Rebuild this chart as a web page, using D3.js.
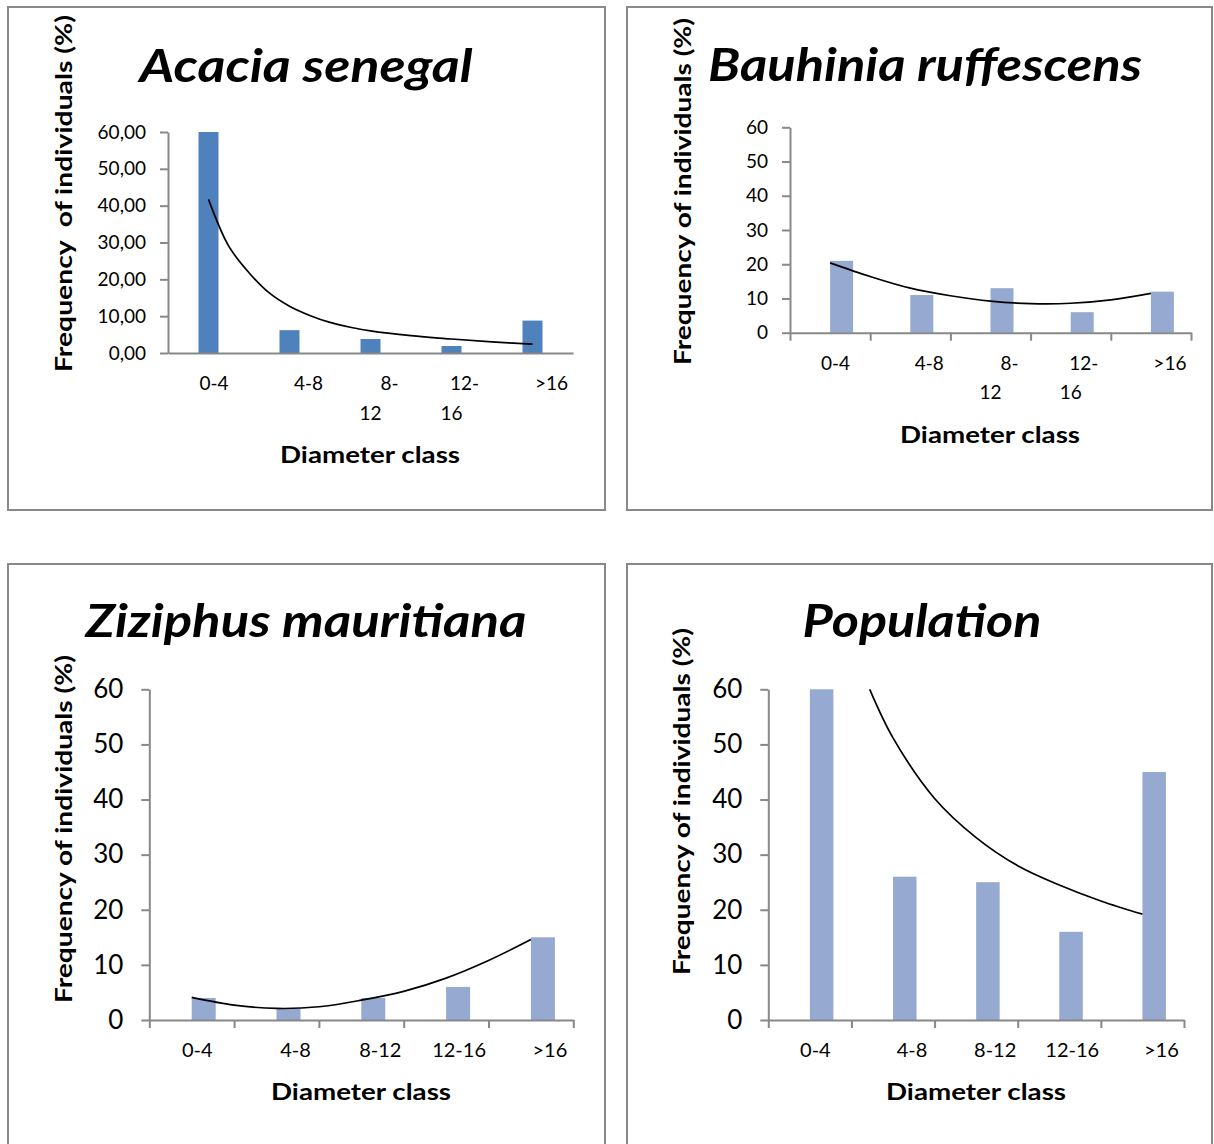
<!DOCTYPE html>
<html>
<head>
<meta charset="utf-8">
<script src="https://cdn.jsdelivr.net/npm/d3@7"></script>
<style>
  body { margin: 0; background: #fff; }
  svg { display: block; }
  text { font-family: Lato, "Open Sans", sans-serif; fill: #000; }
</style>
</head>
<body>
<div id="wrapper"></div>
<script>
// diameter classes on the x axis
const classes = ["0-4", "4-8", "8-12", "12-16", ">16"]
// top charts wrap the long labels on two lines
const wrappedLabels = [["0-4"], ["4-8"], ["8-", "12"], ["12-", "16"], [">16"]]
const singleLabels = classes.map(c => [c])
const yTicks = [0, 10, 20, 30, 40, 50, 60]

// frequency of individuals (%) for each class
const acaciaValues = [60, 6.2, 3.8, 1.9, 8.8]
const bauhiniaValues = [21, 11, 13, 6, 12]
const ziziphusValues = [4, 2, 4, 6, 15]
const populationValues = [60, 26, 25, 16, 45]

// trend lines: [class position (1..5), value]
const acaciaTrend = [[1, 41.7], [1.25, 29], [1.5, 21.8], [1.75, 16.3], [2, 12.7], [2.25, 10.2], [2.5, 8.3],
    [2.75, 7], [3, 6], [3.5, 4.7], [4, 3.8], [4.5, 3], [5, 2.4]]
const bauhiniaTrend = [[1, 20.4], [1.5, 16.4], [2, 13], [2.5, 10.8], [3, 9.2], [3.5, 8.5], [4, 8.6], [4.5, 9.6], [5, 11.5]]
const ziziphusTrend = [[1, 4.1], [1.5, 2.7], [2, 2.1], [2.5, 2.4], [3, 3.6], [3.5, 5.2], [4, 7.6], [4.5, 10.8], [5, 14.6]]
const populationTrend = [[1.72, 60], [2, 51.2], [2.5, 40.2], [3, 33.1], [3.5, 28], [4, 24.5], [4.5, 21.6], [5, 19.2]]

// comma decimals like the original spreadsheet ("60,00")
const commaLocale = d3.formatLocale({decimal: ",", thousands: ".", grouping: [3], currency: ["", ""]})
const fmtComma = commaLocale.format(".2f")
const fmtPlain = d3.format("d")

// where everything sits on the page (not data)
const labelShift = [5.5, 19, 19, 13, 19]

const panels = [
    {
        title: "Acacia senegal", yTitle: "Frequency  of individuals (%)",
        values: acaciaValues, trend: acaciaTrend, labels: wrappedLabels, fmt: fmtComma,
        box: {x: 8, y: 7, w: 597, h: 503},
        plot: {left: 168, right: 573, top: 132, bottom: 353},
        barColor: "#4f81bd", barWidth: 20, centered: true, xTicks: false,
        tickFont: 19, tickPad: 14, labelFont: 19, labelY: [390, 420],
        titlePos: {x: 306, y: 82, len: 333},
        yTitlePos: {x: 72, y: 193.5, len: 357},
        xTitlePos: {x: 370, y: 463},
    },
    {
        title: "Bauhinia ruffescens", yTitle: "Frequency of individuals (%)",
        values: bauhiniaValues, trend: bauhiniaTrend, labels: wrappedLabels, fmt: fmtPlain,
        box: {x: 627, y: 7, w: 585, h: 503},
        plot: {left: 790, right: 1191, top: 127.3, bottom: 332.7},
        barColor: "#95a9d1", barWidth: 23, centered: false, xTicks: true,
        tickFont: 19, tickPad: 14, labelFont: 19, labelY: [370, 399],
        titlePos: {x: 925, y: 81, len: 434},
        yTitlePos: {x: 691, y: 191.5, len: 347},
        xTitlePos: {x: 990, y: 443},
    },
    {
        title: "Ziziphus mauritiana", yTitle: "Frequency of individuals (%)",
        values: ziziphusValues, trend: ziziphusTrend, labels: singleLabels, fmt: fmtPlain,
        box: {x: 8, y: 564, w: 597, h: 600},
        plot: {left: 149.3, right: 573.3, top: 689.3, bottom: 1020},
        barColor: "#95a9d1", barWidth: 24, centered: false, xTicks: true,
        tickFont: 26, tickPad: 18, labelFont: 20, labelY: [1057],
        titlePos: {x: 306, y: 637, len: 441},
        yTitlePos: {x: 72, y: 829, len: 348},
        xTitlePos: {x: 361, y: 1100},
    },
    {
        title: "Population", yTitle: "Frequency of individuals (%)",
        values: populationValues, trend: populationTrend, labels: singleLabels, fmt: fmtPlain,
        box: {x: 627, y: 564, w: 585, h: 600},
        plot: {left: 768.3, right: 1184, top: 689.3, bottom: 1020},
        barColor: "#95a9d1", barWidth: 23.5, centered: false, xTicks: true,
        tickFont: 26, tickPad: 18, labelFont: 20, labelY: [1057],
        titlePos: {x: 922, y: 637, len: 239},
        yTitlePos: {x: 690, y: 801.5, len: 347},
        xTitlePos: {x: 976, y: 1100},
    },
]

const svg = d3.select("#wrapper")
    .append("svg")
        .attr("width", 1214)
        .attr("height", 1144)

panels.forEach((p, k) => drawPanel(p, k))

function drawPanel(p, k) {
    const g = svg.append("g")

    // grey frame round each chart
    g.append("rect")
        .attr("x", p.box.x)
        .attr("y", p.box.y)
        .attr("width", p.box.w)
        .attr("height", p.box.h)
        .attr("fill", "none")
        .attr("stroke", "#898989")
        .attr("stroke-width", 2)

    const yScale = d3.scaleLinear()
        .domain([0, 60])
        .range([p.plot.bottom, p.plot.top])

    // class position 1..5 sits in the middle of each band
    const xScale = d3.scaleLinear()
        .domain([0.5, 5.5])
        .range([p.plot.left, p.plot.right])

    // bars
    g.selectAll("rect.bar")
        .data(p.values)
        .enter()
        .append("rect")
            .attr("class", "bar")
            .attr("x", (d, i) => xScale(i + 1) - (p.centered ? p.barWidth / 2 : 0))
            .attr("y", d => yScale(d))
            .attr("width", p.barWidth)
            .attr("height", d => yScale(0) - yScale(d))
            .attr("fill", p.barColor)

    // y axis
    const yAxis = g.append("g")
        .attr("transform", `translate(${p.plot.left},0)`)
        .call(d3.axisLeft(yScale)
            .tickValues(yTicks)
            .tickSize(8)
            .tickSizeOuter(0)
            .tickPadding(p.tickPad)
            .tickFormat(p.fmt))

    // x axis: ticks on the band edges, or none at all for Acacia
    const edges = d3.range(0.5, 6, 1)
    const xAxis = g.append("g")
        .attr("transform", `translate(0,${p.plot.bottom})`)
        .call(d3.axisBottom(xScale)
            .tickValues(p.xTicks ? edges : [])
            .tickSize(8)
            .tickSizeOuter(0)
            .tickFormat(""))

    ;[yAxis, xAxis].forEach(ax => {
        ax.selectAll("path, line")
            .attr("stroke", "#888")
            .attr("stroke-width", 2)
        ax.selectAll("text")
            .attr("fill", "#000")
            .style("font-family", "Lato, sans-serif")
            .style("font-size", p.tickFont + "px")
    })

    // category labels
    const labelGroups = g.selectAll("text.cat")
        .data(p.labels)
        .enter()
        .append("text")
            .attr("class", "cat")
            .attr("text-anchor", "middle")
            .style("font-size", p.labelFont + "px")
    labelGroups.selectAll("tspan")
        .data((lines, i) => lines.map((t, j) => ({t, j, i})))
        .enter()
        .append("tspan")
            .attr("x", d => xScale(d.i + 1) + (d.j === 0 ? labelShift[d.i] : 0))
            .attr("y", d => p.labelY[d.j])
            .text(d => d.t)

    // trend line, clipped to the plot area
    const clipId = "clip" + k
    g.append("clipPath")
        .attr("id", clipId)
        .append("rect")
            .attr("x", p.plot.left)
            .attr("y", p.plot.top - 1)
            .attr("width", p.plot.right - p.plot.left)
            .attr("height", p.plot.bottom - p.plot.top + 1)

    const lineGenerator = d3.line()
        .x(d => xScale(d[0]))
        .y(d => yScale(d[1]))
        .curve(d3.curveCatmullRom.alpha(0.5))

    g.append("path")
        .attr("d", lineGenerator(p.trend))
        .attr("clip-path", `url(#${clipId})`)
        .attr("fill", "none")
        .attr("stroke", "#000")
        .attr("stroke-width", 1.7)

    // chart title, bold italic
    g.append("text")
        .attr("x", p.titlePos.x)
        .attr("y", p.titlePos.y)
        .attr("text-anchor", "middle")
        .attr("textLength", p.titlePos.len)
        .attr("lengthAdjust", "spacingAndGlyphs")
        .style("font-size", "46px")
        .style("font-weight", 700)
        .style("font-style", "italic")
        .text(p.title)

    // axis titles
    g.append("text")
        .attr("transform", `translate(${p.yTitlePos.x},${p.yTitlePos.y}) rotate(-90)`)
        .attr("text-anchor", "middle")
        .attr("textLength", p.yTitlePos.len)
        .attr("lengthAdjust", "spacingAndGlyphs")
        .style("white-space", "pre")
        .style("font-size", "22px")
        .style("font-weight", 700)
        .text(p.yTitle)

    g.append("text")
        .attr("x", p.xTitlePos.x)
        .attr("y", p.xTitlePos.y)
        .attr("text-anchor", "middle")
        .attr("textLength", 180)
        .attr("lengthAdjust", "spacingAndGlyphs")
        .style("font-size", "22px")
        .style("font-weight", 700)
        .text("Diameter class")
}
</script>
</body>
</html>
